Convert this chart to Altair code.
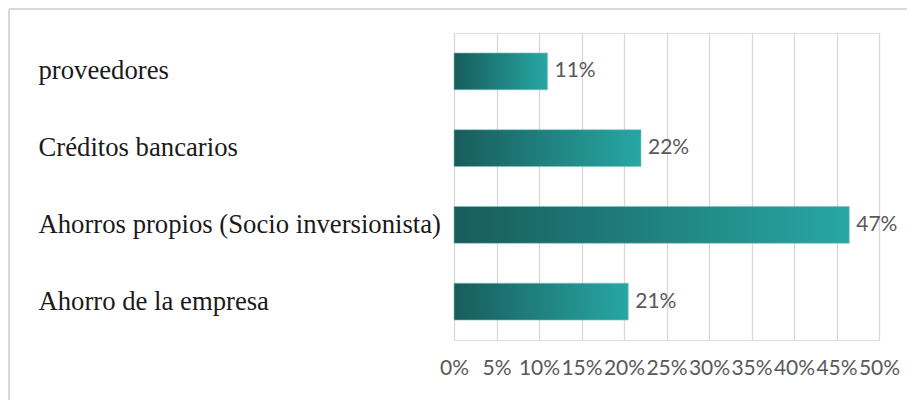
import altair as alt
import pandas as pd

categories = ["proveedores", "Créditos bancarios", "Ahorros propios (Socio inversionista)", "Ahorro de la empresa"]
values = [0.11, 0.22, 0.465, 0.205]
labels = ["11%", "22%", "47%", "21%"]
ticks = [0, 0.05, 0.10, 0.15, 0.20, 0.25, 0.30, 0.35, 0.40, 0.45, 0.50]

df = pd.DataFrame({"cat": categories, "val": values, "lab": labels})

W, H = 425, 307
PL, PT, PR, PB = 446, 25, 28, 60

y_enc = alt.Y("cat:N", sort=categories,
              scale=alt.Scale(paddingInner=0.52, paddingOuter=0.26),
              axis=alt.Axis(title=None, domain=False, ticks=False, grid=False,
                            labelAlign="left", labelPadding=PL - 30, labelLimit=600,
                            labelFont="Liberation Serif", labelFontSize=26.7,
                            labelColor="#1a1a1a"))
x_enc = alt.X("val:Q", scale=alt.Scale(domain=[0, 0.5], nice=False),
              axis=alt.Axis(title=None, values=ticks, format=".0%", domain=False,
                            ticks=False, grid=True, gridColor="#d9d9d9", gridWidth=1.3,
                            labelFont="Lato", labelFontSize=21, labelColor="#595959",
                            labelPadding=17, labelOverlap=False, labelFlush=False))

grad = alt.Gradient(gradient="linear",
                    stops=[alt.GradientStop(color="#185c5b", offset=0),
                           alt.GradientStop(color="#27a7a4", offset=1)],
                    x1=0, x2=1, y1=0, y2=0)

bars = alt.Chart(df).mark_bar(color=grad, stroke="#7fc4c2", strokeWidth=0.6).encode(x=x_enc, y=y_enc)
text = alt.Chart(df).mark_text(align="left", baseline="middle", dx=7, font="Lato",
                               fontSize=21, color="#595959").encode(
    x="val:Q", y=alt.Y("cat:N", sort=categories), text="lab:N")

frame_top = alt.Chart(df).mark_rule(color="#d9d9d9", strokeWidth=2).encode(
    x=alt.value(-PL + 1), x2=alt.value(W + PR), y=alt.value(-PT + 1))
frame_left = alt.Chart(df).mark_rule(color="#d9d9d9", strokeWidth=2).encode(
    x=alt.value(-PL + 1), y=alt.value(-PT + 1), y2=alt.value(H + PB))

chart = alt.layer(frame_top, frame_left, bars, text).properties(
    width=W, height=H,
    autosize=alt.AutoSizeParams(type="none"),
    padding={"left": PL, "top": PT, "right": PR, "bottom": PB},
).configure_view(stroke=None).configure(background="white")

chart.save("out.html", embed_options={"renderer": "svg", "actions": False})
